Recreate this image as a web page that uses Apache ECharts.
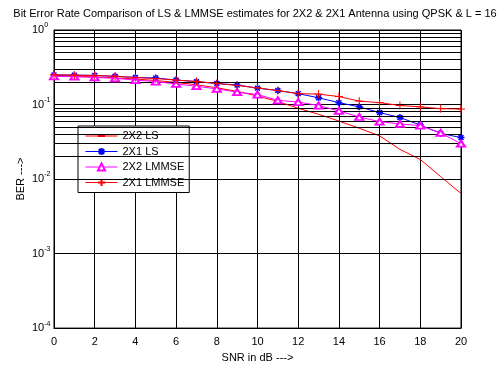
<!DOCTYPE html>
<html>
<head>
<meta charset="utf-8">
<script src="https://cdn.jsdelivr.net/npm/echarts@6/dist/echarts.min.js"></script>
<style>
html,body{margin:0;padding:0;background:#fff;}
#chart{width:501px;height:368px;}
</style>
</head>
<body>
<div id="chart"></div>
<script>
// ---- data ----
const snr = [0,1,2,3,4,5,6,7,8,9,10,11,12,13,14,15,16,17,18,19,20];
const ls2x2 = [0.245,0.240,0.235,0.228,0.220,0.210,0.198,0.184,0.168,0.150,0.130,0.110,0.089,0.074,0.060,0.048,0.038,0.025,0.0183,0.0108,0.0064];
const ls2x1 = [0.250,0.248,0.246,0.239,0.231,0.227,0.213,0.203,0.191,0.183,0.166,0.154,0.140,0.123,0.106,0.093,0.078,0.067,0.053,0.041,0.036];
const lmmse2x2 = [0.239,0.236,0.231,0.225,0.213,0.203,0.189,0.176,0.162,0.147,0.136,0.114,0.108,0.097,0.082,0.068,0.059,0.055,0.052,0.0416,0.0298];
const lmmse2x1 = [0.250,0.248,0.245,0.240,0.230,0.223,0.213,0.204,0.192,0.180,0.167,0.154,0.140,0.138,0.128,0.111,0.106,0.097,0.093,0.088,0.087];
const seriesNames = ['2X2 LS','2X1 LS','2X2 LMMSE','2X1 LMMSE'];
const titleText = 'Bit Error Rate Comparison of LS & LMMSE estimates for 2X2 & 2X1 Antenna using QPSK & L = 16';
const xName = 'SNR in dB --->';
const yName = 'BER --->';
const yMin = 1e-4, yMax = 1;

// minor log grid lines (2..9 within each decade)
const minorLines = [];
for (let e = -4; e < 0; e++) {
  for (let k = 2; k <= 9; k++) minorLines.push({yAxis: k * Math.pow(10, e)});
}

const FONT = 'Liberation Sans, Arial, sans-serif';
const pair = arr => snr.map((x, i) => [x, arr[i]]);

const starPath = 'path://M0,5L10,5M5,0L5,10M1.5,1.5L8.5,8.5M8.5,1.5L1.5,8.5';
const plusPath = 'path://M0,5L10,5M5,0L5,10';
const dashPath = 'path://M0,0M0,5L10,5M10,10';

const chart = echarts.init(document.getElementById('chart'), null, {renderer: 'canvas'});
chart.setOption({
  animation: false,
  backgroundColor: '#fff',
  textStyle: {fontFamily: FONT},
  title: {
    text: titleText,
    left: 255, top: 8, textAlign: 'center', padding: 0,
    textStyle: {fontSize: 11, fontWeight: 'normal', color: '#000', fontFamily: FONT}
  },
  grid: {left: 54, right: 40, top: 30, bottom: 34, show: true, borderColor: '#000', borderWidth: 1, backgroundColor: 'transparent'},
  legend: {
    orient: 'vertical', left: 78, top: 126,
    padding: [4.5, 5, 4.5, 7],
    itemWidth: 32, itemHeight: 9, itemGap: 4.5,
    backgroundColor: '#fff', borderColor: '#000', borderWidth: 1, borderRadius: 0,
    lineStyle: {width: 1},
    textStyle: {fontSize: 11, color: '#000', fontFamily: FONT},
    data: seriesNames
  },
  xAxis: {
    type: 'value', min: 0, max: 20, interval: 2,
    name: xName, nameLocation: 'middle', nameGap: 21,
    nameTextStyle: {fontSize: 11, color: '#000', fontFamily: FONT},
    axisLine: {show: true, lineStyle: {color: '#000', width: 1}},
    axisTick: {show: true, inside: true, length: 5, lineStyle: {color: '#000'}},
    axisLabel: {fontSize: 11, color: '#000', margin: 8, fontFamily: FONT},
    splitLine: {show: true, lineStyle: {color: '#000', width: 1}}
  },
  yAxis: {
    type: 'log', logBase: 10, min: yMin, max: yMax,
    name: yName, nameLocation: 'middle', nameGap: 28, nameRotate: 90, nameMoveOverlap: false,
    nameTextStyle: {fontSize: 11, color: '#000', fontFamily: FONT},
    axisLine: {show: true, lineStyle: {color: '#000', width: 1}},
    axisTick: {show: true, inside: true, length: 5, lineStyle: {color: '#000'}},
    axisLabel: {
      align: 'left', margin: 22, color: '#000',
      formatter: v => '{b|10}{s|' + Math.round(Math.log10(v)) + '}',
      rich: {
        b: {fontSize: 11, color: '#000', fontFamily: FONT},
        s: {fontSize: 7, color: '#000', fontFamily: FONT, padding: [0, 0, 9, 0]}
      }
    },
    splitLine: {show: true, lineStyle: {color: '#000', width: 1}}
  },
  series: [
    {
      name: seriesNames[0], type: 'line', data: pair(ls2x2),
      symbol: dashPath, showSymbol: false,
      lineStyle: {color: '#ff0000', width: 1}, itemStyle: {color: '#ff0000', borderColor: '#ff0000', borderWidth: 1},
      markLine: {
        silent: true, symbol: 'none', animation: false,
        label: {show: false},
        lineStyle: {color: '#000', width: 1, type: 'solid'},
        emphasis: {disabled: true},
        data: minorLines
      },
      z: 3
    },
    {
      name: seriesNames[1], type: 'line', data: pair(ls2x1),
      symbol: starPath, symbolSize: 7,
      lineStyle: {color: '#0000ff', width: 1},
      itemStyle: {color: '#0000ff', borderColor: '#0000ff', borderWidth: 1.5},
      z: 4
    },
    {
      name: seriesNames[2], type: 'line', data: pair(lmmse2x2),
      symbol: 'emptyTriangle', symbolSize: [8, 6],
      lineStyle: {color: '#ff00ff', width: 1},
      itemStyle: {color: '#ff00ff', borderColor: '#ff00ff', borderWidth: 1.2},
      z: 5
    },
    {
      name: seriesNames[3], type: 'line', data: pair(lmmse2x1),
      symbol: plusPath, symbolSize: 8,
      lineStyle: {color: '#ff0000', width: 1},
      itemStyle: {color: '#ff0000', borderColor: '#ff0000', borderWidth: 1},
      z: 6
    }
  ]
});
</script>
</body>
</html>
